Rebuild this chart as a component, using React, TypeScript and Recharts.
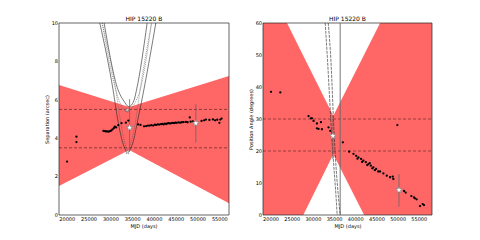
import React from 'react';
import {
  ComposedChart,
  Area,
  Line,
  Scatter,
  XAxis,
  YAxis,
  ReferenceLine,
  ReferenceArea,
} from 'recharts';

const MJD_TICKS = [20000, 25000, 30000, 35000, 40000, 45000, 50000, 55000];
const SEP_TICKS = [0, 2, 4, 6, 8, 10];
const PA_TICKS = [0, 10, 20, 30, 40, 50, 60];

// allowed region (red wedge)
const SEP_WEDGE_MJD = [18100, 34200, 57100];
const SEP_WEDGE_LOW = [1.51, 3.38, 0.61];
const SEP_WEDGE_HIGH = [6.77, 5.62, 7.24];

const PA_WEDGE_MJD = [18100, 23770, 27610, 34700, 41970, 45740, 58000];
const PA_WEDGE_LOW = [0, 0, 0, 19, 0, 0, 0];
const PA_WEDGE_HIGH = [60, 60, 49.8, 31, 50.1, 60, 60];

const SEP_LIMITS = [3.5, 5.5];
const PA_LIMITS = [20, 30];

// measured separations
const SEP_OBS_MJD = [
  19950, 22100, 22100, 28300, 28600, 28900, 29200, 29500, 29800, 30100, 30400, 30700, 30900,
  31200, 31700, 32440, 33430, 34000, 36250, 36800, 37600, 38100, 38500, 38900, 39300, 39700,
  40100, 40400, 40800, 41100, 41500, 41800, 42100, 42400, 42700, 43000, 43300, 43600, 43900,
  44200, 44500, 44800, 45100, 45500, 45900, 46300, 46700, 47200, 47600, 48100, 48300, 48800,
  50800, 51400, 51800, 52600, 53400, 53900, 54400, 54900, 55100, 55400,
];
const SEP_OBS_VAL = [
  2.78, 4.08, 3.8, 4.38, 4.37, 4.35, 4.36, 4.34, 4.37, 4.4, 4.46, 4.53, 4.6,
  4.56, 4.68, 4.78, 4.81, 4.92, 4.72, 4.69, 4.62, 4.63, 4.66, 4.65, 4.68, 4.66,
  4.7, 4.69, 4.72, 4.71, 4.73, 4.75, 4.72, 4.76, 4.74, 4.77, 4.78, 4.76, 4.79,
  4.8, 4.78, 4.81, 4.8, 4.82, 4.81, 4.83, 4.84, 4.85, 4.83, 5.08, 4.86, 4.88,
  4.9, 4.93, 4.97, 4.95, 4.98, 4.93, 4.96, 4.8, 4.97, 5.02,
];

// measured position angles
const PA_OBS_MJD = [
  20000, 22190, 28860, 29420, 29660, 30040, 30830, 31780, 30830, 31210, 32010, 33570, 33970,
  36960, 38440, 39460, 40090, 40400, 40630, 41270, 41500, 41810, 42370, 42700, 42990, 43300,
  43550, 43900, 44160, 44500, 44800, 45300, 45740, 46520, 47320, 48100, 48730, 48870, 49820,
  51390, 51790, 53130, 53750, 53980, 54380, 55160, 55800, 56110,
];
const PA_OBS_VAL = [
  38.5, 38.3, 30.9, 30.2, 30.2, 29.4, 28.6, 29.0, 27.1, 26.9, 26.8, 27.4, 26.3,
  22.7, 19.8, 19.1, 18.5, 17.6, 18.0, 17.5, 16.6, 17.0, 16.5, 15.6, 15.9, 16.2,
  15.4, 14.6, 14.9, 14.0, 14.4, 13.6, 13.6, 13.0, 12.3, 11.8, 12.0, 11.25, 28.1,
  7.5, 7.0, 5.9, 5.5, 5.2, 4.9, 2.8, 3.4, 3.1,
];

// predicted tracks, [MJD, value]
const SEP_TRACK_INNER = [[28450, 10], [31660, 6.51], [32970, 5.94], [34120, 5.64], [35260, 5.94], [35880, 6.51], [38320, 10]];
const SEP_TRACK_OUTER = [[27460, 10], [30510, 6.51], [31590, 4.95], [32740, 3.75], [33820, 3.3], [35030, 3.75], [36180, 4.95], [37560, 6.51], [40310, 10]];
const SEP_TRACK_DOT_A = [[27990, 10], [31130, 6.51], [32280, 5.73], [33770, 5.36], [35260, 5.73], [36710, 6.51], [39330, 10]];
const SEP_TRACK_DOT_B = [[27990, 10], [31130, 6.51], [32160, 4.95], [33200, 3.75], [33820, 3.44], [34570, 3.75], [35720, 4.95], [36710, 6.51], [39330, 10]];
const SEP_TRACK_ENDS = [[33770, 5.47], [33820, 3.28]];

const PA_TRACK_A = [[32790, 60], [33330, 48.4], [34320, 24.7], [35540, 1.6], [35610, 0]];
const PA_TRACK_B = [[33500, 60], [34130, 48.4], [34910, 24.7], [36200, 1.6], [36320, 0]];
const PA_EPOCH = 36320;

// model points with error bars: [MJD, value, low, high]
const SEP_STARS = [[34300, 4.55, 3.3, 6.03], [49500, 4.78, 3.77, 5.77]];
const PA_STARS = [[34600, 24.7, 17.5, 31], [50200, 7.8, 2.6, 12.8]];

const toPts = (xs: number[], ys: number[]) => xs.map((x, i) => ({ x, y: ys[i] }));
const pairs = (arr: number[][]) => arr.map(([x, y]) => ({ x, y }));
const band = (xs: number[], lo: number[], hi: number[]) =>
  xs.map((x, i) => ({ x, band: [lo[i], hi[i]] }));

const FONT = 'DejaVu Sans, sans-serif';
const tickStyle = { fontSize: 5, fill: '#000', fontFamily: FONT };

const BlackDot = (props: any) => <circle cx={props.cx} cy={props.cy} r={1.15} fill="#000" />;

const starPath = (cx: number, cy: number, ro: number, ri: number) => {
  const pts: string[] = [];
  for (let i = 0; i < 10; i++) {
    const r = i % 2 === 0 ? ro : ri;
    const a = -Math.PI / 2 + (i * Math.PI) / 5;
    pts.push(`${cx + r * Math.cos(a)},${cy + r * Math.sin(a)}`);
  }
  return pts.join(' ');
};

const WhiteStar = (props: any) => (
  <polygon points={starPath(props.cx, props.cy, 3.6, 1.5)} fill="#fff" stroke="#777" strokeWidth={0.6} />
);
const GrayStar = (props: any) => (
  <polygon points={starPath(props.cx, props.cy, 2.2, 1)} fill="#ddd" stroke="#666" strokeWidth={0.5} />
);

const trackLine = (data: any[], key: string, dash?: string, color = '#222') => (
  <Line
    key={key}
    data={data}
    dataKey="y"
    type="monotone"
    stroke={color}
    strokeWidth={0.6}
    strokeDasharray={dash}
    dot={false}
    activeDot={false}
    isAnimationActive={false}
  />
);

const textBase: React.CSSProperties = {
  position: 'absolute',
  fontFamily: FONT,
  color: '#000',
  whiteSpace: 'nowrap',
  textAlign: 'center',
  lineHeight: 1,
};

function SepPanel() {
  const xDomain = [18100, 57100];
  return (
    <ComposedChart
      width={240}
      height={240}
      data={band(SEP_WEDGE_MJD, SEP_WEDGE_LOW, SEP_WEDGE_HIGH)}
      margin={{ top: 23, right: 11, bottom: 15, left: 39 }}
    >
      <XAxis
        type="number"
        dataKey="x"
        domain={xDomain}
        ticks={MJD_TICKS}
        interval={0}
        allowDataOverflow
        tickLine={false}
        axisLine={false}
        tickSize={0}
        tickMargin={2}
        height={10}
        tick={tickStyle}
      />
      <YAxis
        type="number"
        domain={[0, 10]}
        ticks={SEP_TICKS}
        interval={0}
        allowDataOverflow
        tickLine={false}
        axisLine={false}
        tickSize={0}
        tickMargin={1}
        width={20}
        tick={tickStyle}
      />
      <Area dataKey="band" type="linear" fill="#ff6666" fillOpacity={1} stroke="none" isAnimationActive={false} />
      {SEP_LIMITS.map((v) => (
        <ReferenceLine key={v} y={v} stroke="#000" strokeOpacity={0.55} strokeWidth={0.8} strokeDasharray="3 2" />
      ))}
      {trackLine(pairs(SEP_TRACK_OUTER), 'outer')}
      {trackLine(pairs(SEP_TRACK_INNER), 'inner')}
      {trackLine(pairs(SEP_TRACK_DOT_A), 'dota', '1 1', '#555')}
      {trackLine(pairs(SEP_TRACK_DOT_B), 'dotb', '1 1', '#555')}
      {SEP_STARS.map(([x, , lo, hi]) => (
        <ReferenceLine key={x} segment={[{ x, y: lo }, { x, y: hi }]} stroke="#666" strokeWidth={0.8} />
      ))}
      <Scatter data={toPts(SEP_OBS_MJD, SEP_OBS_VAL)} dataKey="y" shape={BlackDot} isAnimationActive={false} />
      <Scatter data={pairs(SEP_TRACK_ENDS)} dataKey="y" shape={GrayStar} isAnimationActive={false} />
      <Scatter data={SEP_STARS.map(([x, y]) => ({ x, y }))} dataKey="y" shape={WhiteStar} isAnimationActive={false} />
      <ReferenceArea x1={xDomain[0]} x2={xDomain[1]} y1={0} y2={10} fill="none" stroke="#222" strokeWidth={0.7} />
    </ComposedChart>
  );
}

function PaPanel() {
  const xDomain = [18100, 58000];
  return (
    <ComposedChart
      width={240}
      height={240}
      data={band(PA_WEDGE_MJD, PA_WEDGE_LOW, PA_WEDGE_HIGH)}
      margin={{ top: 23, right: 48, bottom: 15, left: 11 }}
    >
      <XAxis
        type="number"
        dataKey="x"
        domain={xDomain}
        ticks={MJD_TICKS}
        interval={0}
        allowDataOverflow
        tickLine={false}
        axisLine={false}
        tickSize={0}
        tickMargin={2}
        height={10}
        tick={tickStyle}
      />
      <YAxis
        type="number"
        domain={[0, 60]}
        ticks={PA_TICKS}
        interval={0}
        allowDataOverflow
        tickLine={false}
        axisLine={false}
        tickSize={0}
        tickMargin={1}
        width={12}
        tick={tickStyle}
      />
      <Area dataKey="band" type="linear" fill="#ff6666" fillOpacity={1} stroke="none" isAnimationActive={false} />
      {PA_LIMITS.map((v) => (
        <ReferenceLine key={v} y={v} stroke="#000" strokeOpacity={0.5} strokeWidth={0.8} strokeDasharray="3 2" />
      ))}
      <ReferenceLine x={PA_EPOCH} stroke="#666" strokeWidth={0.9} />
      {trackLine(pairs(PA_TRACK_A), 'a', '3 1')}
      {trackLine(pairs(PA_TRACK_B), 'b', '3 1')}
      {PA_STARS.map(([x, , lo, hi]) => (
        <ReferenceLine key={x} segment={[{ x, y: lo }, { x, y: hi }]} stroke="#666" strokeWidth={0.8} />
      ))}
      <Scatter data={toPts(PA_OBS_MJD, PA_OBS_VAL)} dataKey="y" shape={BlackDot} isAnimationActive={false} />
      <Scatter data={PA_STARS.map(([x, y]) => ({ x, y }))} dataKey="y" shape={WhiteStar} isAnimationActive={false} />
      <ReferenceArea x1={xDomain[0]} x2={xDomain[1]} y1={0} y2={60} fill="none" stroke="#222" strokeWidth={0.7} />
    </ComposedChart>
  );
}

export default function App() {
  return (
    <div style={{ position: 'absolute', left: 0, top: 0, width: 480, height: 240, background: '#fff' }}>
      <div style={{ position: 'absolute', left: 0, top: 0 }}>
        <SepPanel />
      </div>
      <div style={{ position: 'absolute', left: 240, top: 0 }}>
        <PaPanel />
      </div>

      <div style={{ ...textBase, left: 59, width: 170, top: 16, fontSize: 6 }}>HIP 15220 B</div>
      <div style={{ ...textBase, left: 263, width: 169, top: 16, fontSize: 6 }}>HIP 15220 B</div>

      <div style={{ ...textBase, left: 59, width: 170, top: 224, fontSize: 5 }}>MJD (days)</div>
      <div style={{ ...textBase, left: 263, width: 170, top: 224, fontSize: 5 }}>MJD (days)</div>

      <div style={{ ...textBase, left: -3, width: 100, top: 116.5, fontSize: 5, transform: 'rotate(-90deg)' }}>
        Separation (arcsec)
      </div>
      <div style={{ ...textBase, left: 201, width: 100, top: 116.5, fontSize: 5, transform: 'rotate(-90deg)' }}>
        Position Angle (degrees)
      </div>
    </div>
  );
}
